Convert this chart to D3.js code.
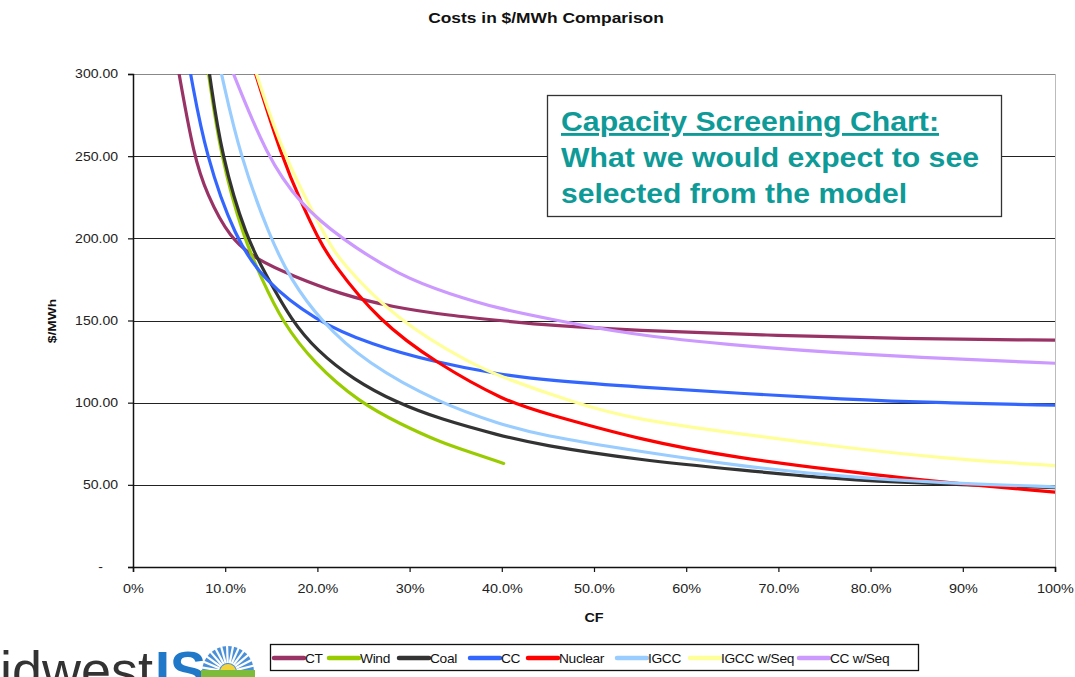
<!DOCTYPE html>
<html>
<head>
<meta charset="utf-8">
<script src="https://cdn.jsdelivr.net/npm/d3@7"></script>
<style>
  html, body { margin: 0; padding: 0; background: #fff; }
  svg { display: block; font-family: Arial, "Liberation Sans", sans-serif; }
</style>
</head>
<body>
<svg id="chart" width="1075" height="677"></svg>
<script>
// Levelized cost ($/MWh) by capacity factor (%), per technology
const ctPoints = [[5.0,300],[6.6,250],[8.0,227],[10.5,200],[13.4,187],[17.4,177],[22.5,166],[28.2,158],[34.4,153],[39.8,150],[45.2,147],[54.2,144],[68.8,141],[83.2,139],[100,138]];
const windPoints = [[8.2,300],[9.5,250],[12.0,200],[14.0,175],[16.1,150],[19.6,124],[24.6,100],[29.0,87],[33.3,76],[36.5,70],[40.2,63]];
const coalPoints = [[8.3,300],[9.6,250],[12.3,200],[14.5,177],[17.2,150],[19.9,132],[23.9,114],[28.6,100],[33.3,90],[39.8,80],[44.1,74.3],[55.0,65],[65.8,59],[76.7,53.4],[85.0,51],[100,48.3]];
const ccPoints = [[6.25,300],[7.9,250],[11.1,200],[14.1,175],[19.7,150],[26.0,135],[32.5,125],[39.8,117],[45.2,113.5],[55.0,109.4],[65.8,105.7],[76.7,102.1],[88.0,99.8],[100,98.5]];
const nuclearPoints = [[13.3,300],[16.1,250],[18.3,221],[20.1,200],[21.5,186],[26.6,150],[32.9,124],[40.5,100.6],[44.1,94.5],[55.0,77.3],[65.8,66.1],[76.7,58.6],[85.0,53],[100,45.5]];
const igccPoints = [[9.6,300],[11.6,250],[14.9,200],[17.1,175],[20.3,150],[25.3,124],[33.3,99.6],[39.8,87],[44.1,80.3],[55.0,70.2],[65.8,61.5],[76.7,55],[88.0,51],[100,48.8]];
const igccSeqPoints = [[13.4,300],[16.3,250],[21.0,200],[22.3,187],[28.6,150],[36.9,123],[39.8,116],[47.8,100],[54.2,90],[65.8,81],[76.7,73],[88.0,66],[100,61.7]];
const ccSeqPoints = [[10.9,300],[14.5,250],[18.1,221],[22.5,200],[29.0,177],[34.4,166],[39.8,157],[45.2,151],[54.2,141],[68.8,133],[83.2,128],[100,124]];

const seriesNames = ["CT", "Wind", "Coal", "CC", "Nuclear", "IGCC", "IGCC w/Seq", "CC w/Seq"];
const seriesColors = ["#993366", "#99CC00", "#333333", "#3366FF", "#FF0000", "#99CCFF", "#FFFF99", "#CC99FF"];
const seriesPoints = [ctPoints, windPoints, coalPoints, ccPoints, nuclearPoints, igccPoints, igccSeqPoints, ccSeqPoints];

const yTickValues = [0, 50, 100, 150, 200, 250, 300];
const yTickLabels = ["-", "50.00", "100.00", "150.00", "200.00", "250.00", "300.00"];
const xTickValues = [0, 10, 20, 30, 40, 50, 60, 70, 80, 90, 100];
const xTickLabels = ["0%", "10.0%", "20.0%", "30%", "40.0%", "50.0%", "60%", "70.0%", "80.0%", "90%", "100%"];

const noteLines = ["Capacity Screening Chart:", "What we would expect to see", "selected from the model"];
const noteWidths = [378, 418, 346];

const svg = d3.select("#chart");
const plot = { left: 133, right: 1055, top: 74, bottom: 567 };
const stretch = 1.2; // labels are set slightly wide

const x = d3.scaleLinear().domain([0, 100]).range([plot.left, plot.right]);
const y = d3.scaleLinear().domain([0, 300]).range([plot.bottom, plot.top]);

// Title
svg.append("text")
  .attr("transform", `translate(546,23) scale(${stretch},1)`)
  .attr("text-anchor", "middle")
  .attr("font-size", 14.5).attr("font-weight", "bold")
  .attr("fill", "#111")
  .text("Costs in $/MWh Comparison");

// Right border of plot area
svg.append("line")
  .attr("x1", plot.right + 0.5).attr("x2", plot.right + 0.5)
  .attr("y1", plot.top).attr("y2", plot.bottom)
  .attr("stroke", "#bbb").attr("stroke-width", 1);

// Horizontal gridlines
svg.append("g").selectAll("line")
  .data(yTickValues.filter(v => v > 0))
  .join("line")
  .attr("x1", plot.left).attr("x2", plot.right)
  .attr("y1", d => Math.round(y(d)) + 0.5).attr("y2", d => Math.round(y(d)) + 0.5)
  .attr("stroke", d => d === 300 ? "#888" : "#222")
  .attr("stroke-width", 1.2);

// Y axis
const yAxis = d3.axisLeft(y)
  .tickValues(yTickValues)
  .tickSize(5)
  .tickFormat((d, i) => yTickLabels[i]);
const gy = svg.append("g")
  .attr("transform", `translate(${plot.left},0)`)
  .call(yAxis);
gy.select(".domain").attr("stroke", "#111").attr("stroke-width", 1.5);
gy.selectAll(".tick line").attr("stroke", "#111").attr("stroke-width", 1.2);
gy.selectAll(".tick text")
  .attr("x", -15 / 1.17)
  .attr("transform", "scale(1.17,1)")
  .attr("font-size", 12).attr("fill", "#222")
  .attr("font-family", "Arial, 'Liberation Sans', sans-serif");
gy.selectAll(".tick text").filter(d => d === 0).attr("x", -30 / 1.17);

// X axis
const xAxis = d3.axisBottom(x)
  .tickValues(xTickValues)
  .tickSize(5)
  .tickFormat((d, i) => xTickLabels[i]);
const gx = svg.append("g")
  .attr("transform", `translate(0,${plot.bottom})`)
  .call(xAxis);
gx.select(".domain").attr("stroke", "#111").attr("stroke-width", 1.5);
gx.selectAll(".tick line").attr("stroke", "#111").attr("stroke-width", 1.2);
gx.selectAll(".tick text")
  .attr("y", 17)
  .attr("transform", `scale(${stretch},1)`)
  .attr("font-size", 12).attr("fill", "#222")
  .attr("font-family", "Arial, 'Liberation Sans', sans-serif");

// Axis titles
svg.append("text")
  .attr("transform", `translate(594,622) scale(${stretch},1)`)
  .attr("text-anchor", "middle")
  .attr("font-size", 12).attr("font-weight", "bold").attr("fill", "#111")
  .text("CF");
svg.append("text")
  .attr("transform", "translate(56,321) rotate(-90) scale(1.2,1)")
  .attr("text-anchor", "middle")
  .attr("font-size", 11.5).attr("font-weight", "bold").attr("fill", "#111")
  .text("$/MWh");

// Cost curves
svg.append("clipPath").attr("id", "plotClip")
  .append("rect")
  .attr("x", plot.left).attr("y", plot.top)
  .attr("width", plot.right - plot.left).attr("height", plot.bottom - plot.top);

const line = d3.line()
  .x(d => x(d[0]))
  .y(d => y(d[1]))
  .curve(d3.curveBasis);

svg.append("g").attr("clip-path", "url(#plotClip)")
  .selectAll("path")
  .data(seriesPoints)
  .join("path")
  .attr("d", line)
  .attr("fill", "none")
  .attr("stroke", (d, i) => seriesColors[i])
  .attr("stroke-width", 3.2)
  .attr("stroke-linejoin", "round")
  .attr("stroke-linecap", "round");

// Annotation box
const note = svg.append("g");
note.append("rect")
  .attr("x", 547.5).attr("y", 95.5)
  .attr("width", 454).attr("height", 121)
  .attr("fill", "#fff").attr("stroke", "#333").attr("stroke-width", 1.3);
note.selectAll("text")
  .data(noteLines)
  .join("text")
  .attr("x", 561)
  .attr("y", (d, i) => 131 + i * 36)
  .attr("font-size", 28.5).attr("font-weight", "bold")
  .attr("fill", "#0E9A97")
  .attr("textLength", (d, i) => noteWidths[i])
  .attr("lengthAdjust", "spacingAndGlyphs")
  .attr("text-decoration", (d, i) => i === 0 ? "underline" : null)
  .text(d => d);

// Legend
const legendItemX = [274, 329, 399, 470, 528, 617, 690, 799];
const legend = svg.append("g");
legend.append("rect")
  .attr("x", 270.5).attr("y", 644.5)
  .attr("width", 648).attr("height", 26)
  .attr("fill", "#fff").attr("stroke", "#111").attr("stroke-width", 1.3);
const items = legend.selectAll("g.item")
  .data(seriesNames)
  .join("g").attr("class", "item")
  .attr("transform", (d, i) => `translate(${legendItemX[i]},658)`);
items.append("line")
  .attr("x1", 0).attr("x2", 30)
  .attr("stroke", (d, i) => seriesColors[i])
  .attr("stroke-width", 4.5).attr("stroke-linecap", "round");
items.append("text")
  .attr("transform", "translate(31,4.5) scale(1.1,1)")
  .attr("font-size", 12.5).attr("fill", "#111")
  .attr("letter-spacing", -0.3)
  .text(d => d);

// Logo at lower left
const logo = svg.append("g");
logo.append("text")
  .attr("x", 153).attr("y", 689)
  .attr("text-anchor", "end")
  .attr("font-size", 54).attr("fill", "#333")
  .attr("font-family", "Arial, 'Liberation Sans', sans-serif")
  .text("Midwest");
logo.append("text")
  .attr("x", 155).attr("y", 689)
  .attr("font-size", 54).attr("font-weight", "bold").attr("fill", "#1F78C8")
  .attr("font-family", "Arial, 'Liberation Sans', sans-serif")
  .text("IS");
const sun = logo.append("g").attr("transform", "translate(228,672)");
sun.append("path")
  .attr("d", d3.arc()({ innerRadius: 0, outerRadius: 26, startAngle: -Math.PI / 2, endAngle: Math.PI / 2 }))
  .attr("fill", "#4A90D9");
sun.selectAll("line.ray")
  .data(d3.range(-80, 81, 13))
  .join("line").attr("class", "ray")
  .attr("x1", d => 9 * Math.sin(d * Math.PI / 180))
  .attr("y1", d => -9 * Math.cos(d * Math.PI / 180))
  .attr("x2", d => 27 * Math.sin(d * Math.PI / 180))
  .attr("y2", d => -27 * Math.cos(d * Math.PI / 180))
  .attr("stroke", "#fff").attr("stroke-width", 2.2);
sun.append("circle").attr("r", 8).attr("fill", "#F2D33A");
sun.append("rect").attr("x", -27).attr("y", -2).attr("width", 54).attr("height", 8).attr("fill", "#7DBB3A");
</script>
</body>
</html>
